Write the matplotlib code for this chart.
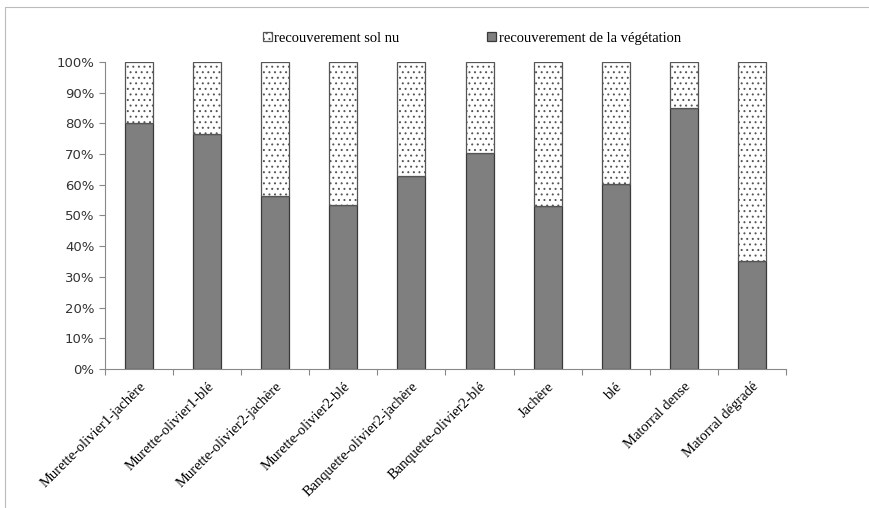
import matplotlib.pyplot as plt
from matplotlib.lines import Line2D
from matplotlib.ticker import PercentFormatter

# Categories and shares (%)
categories = ['Murette-olivier1-jachère', 'Murette-olivier1-blé', 'Murette-olivier2-jachère',
              'Murette-olivier2-blé', 'Banquette-olivier2-jachère', 'Banquette-olivier2-blé',
              'Jachère', 'blé', 'Matorral dense', 'Matorral dégradé']
vegetation = [80.2, 76.5, 56.3, 53.5, 63.0, 70.2, 53.0, 60.4, 85.1, 35.3]
sol_nu = [100 - v for v in vegetation]

fig = plt.figure(figsize=(8.69, 5.08), dpi=100)
ax = fig.add_axes([0.1208, 0.2736, 0.7837, 0.6044])

x = range(len(categories))
plt.rcParams['hatch.linewidth'] = 0.7
b1 = ax.bar(x, vegetation, width=0.41, color='#7f7f7f', edgecolor='#3a3a3a', linewidth=0.9,
            label='recouverement de la végétation')
b2 = ax.bar(x, sol_nu, width=0.41, bottom=vegetation, color='white', edgecolor='#555555',
            hatch='...', linewidth=0.9, label='recouverement sol nu')

ax.set_xlim(-0.5, len(categories) - 0.5)
ax.set_ylim(0, 100)
ax.set_yticks(range(0, 101, 10))
ax.yaxis.set_major_formatter(PercentFormatter(decimals=0))
ax.tick_params(axis='y', labelsize=9.5, labelcolor='#333333', color='#888888', length=4, direction='out')

ax.set_xticks([i - 0.5 for i in range(len(categories) + 1)], minor=False)
ax.set_xticklabels([])
ax.set_xticks(list(x), minor=True)
ax.set_xticklabels(categories, minor=True, rotation=45, ha='right', va='top',
                   rotation_mode='anchor', fontfamily='Liberation Serif', fontsize=10.5)
ax.tick_params(axis='x', which='major', color='#888888', length=4, direction='out')
ax.tick_params(axis='x', which='minor', length=0, pad=8)

for s in ['top', 'right']:
    ax.spines[s].set_visible(False)
for s in ['left', 'bottom']:
    ax.spines[s].set_color('#888888')

fig.legend(handles=[b2, b1], loc='center', bbox_to_anchor=(0.543, 0.925), ncol=2,
           frameon=False, prop={'family': 'Liberation Serif', 'size': 10.5},
           handlelength=0.6, handleheight=0.6, handletextpad=0.2, columnspacing=6)

# outer frame: only left and top edges visible
fig.lines.append(Line2D([0.006, 0.006, 1.0], [0.0, 0.986, 0.986], transform=fig.transFigure,
                        color='#bbbbbb', linewidth=0.8))

fig.savefig('out.png', dpi=100)
